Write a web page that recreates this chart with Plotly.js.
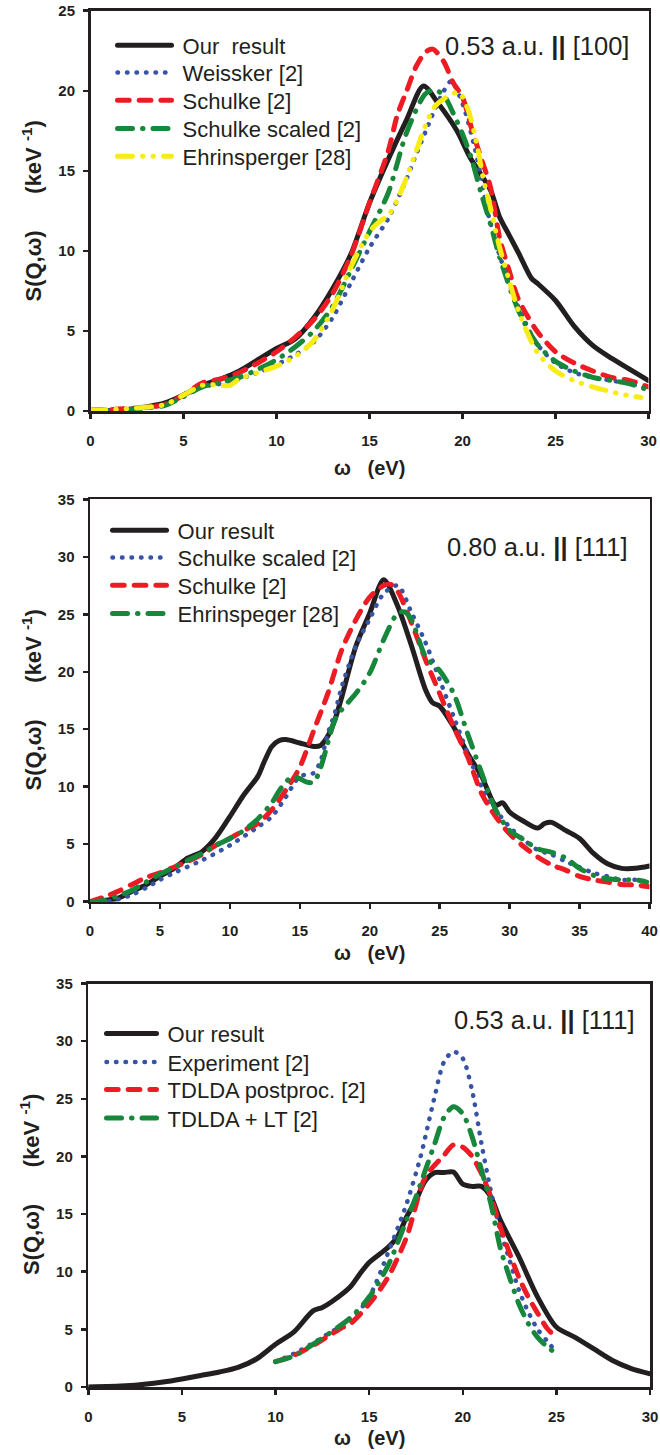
<!DOCTYPE html>
<html><head><meta charset="utf-8">
<script src="https://cdn.plot.ly/plotly-3.0.1.min.js"></script>
<style>
html,body{margin:0;padding:0;background:#fff;}
#chart{width:660px;height:1455px;}
path.js-line{stroke-linecap:round !important;stroke-linejoin:round !important;}
</style></head><body><div id="chart"></div>
<script>
// ---------------- Panel 1 : 0.53 a.u. || [100] ----------------
var p1_names = ["Our\u00A0 result", "Weissker [2]", "Schulke [2]", "Schulke scaled [2]", "Ehrinsperger [28]"];
var p1_our_x = [0,1,2,3,4,5,6,7,8,9,10,11,12,13,14,15,16,17,17.9,18.7,19.7,20.4,21.5,22,22.5,23,23.7,24,25,26,27,28,29,30];
var p1_our_y = [0,0.03,0.1,0.25,0.5,1.0,1.6,2.0,2.5,3.2,3.9,4.5,5.8,7.6,9.8,13.0,15.7,18.2,20.3,19.2,17.5,15.85,13.8,12.1,11.0,9.9,8.3,8.0,6.9,5.3,4.1,3.3,2.6,1.9];
var p1_weis_x = [0,2,4,5,6,7,8,9,10,11,12,13,14,15,16,16.5,17,17.5,18,18.5,19,19.4,20,20.6,21,21.3,22,23,24,25,26,27,28,29,30];
var p1_weis_y = [0.05,0.1,0.4,0.9,1.5,1.7,2.0,2.4,2.9,3.5,4.3,5.8,8.0,10.2,12.0,13.2,14.5,16.0,17.4,18.8,20.0,20.6,19.2,16.7,14.6,12.7,9.7,6.5,4.2,3.0,2.4,2.1,1.9,1.7,1.4];
var p1_sch_x = [0,2,4,5,6,7,8,9,10,11,12,13,14,15,16,16.5,17,17.5,18,18.4,19,19.5,20,20.5,21,21.5,22,22.5,23,24,25,26,27,28,29,30];
var p1_sch_y = [0.05,0.15,0.4,1.0,1.75,2.0,2.4,3.0,3.7,4.6,5.7,7.3,9.7,13.0,16.2,18.5,20.0,21.5,22.4,22.6,21.8,20.5,19.6,17.6,15.8,14.0,10.8,8.8,7.0,5.0,3.7,3.0,2.5,2.1,1.9,1.5];
var p1_schs_x = [0,2,4,5,6,7,8,9,10,11,12,13,14,15,16,17,18,18.5,19,19.5,20,20.5,21,21.5,22,23,24,25,26,27,28,29,30];
var p1_schs_y = [0.05,0.1,0.35,0.9,1.5,1.8,2.1,2.6,3.2,4.0,5.0,6.5,8.8,11.2,13.6,17.4,19.8,20.05,19.7,18.6,17.3,15.7,13.6,11.7,9.6,6.3,4.2,3.1,2.5,2.1,1.9,1.7,1.3];
var p1_ehr_x = [0,2,4,5,6,6.5,7,7.5,8,9,10,11,12,13,14,15,15.5,16,16.5,17,17.5,18,18.5,19,19.8,20.3,20.8,21.1,21.5,22,22.5,23,24,25,26,27,28,29,29.6];
var p1_ehr_y = [0.05,0.15,0.4,1.0,1.6,1.65,1.6,1.6,2.0,2.4,2.8,3.4,4.4,6.3,9.0,11.2,11.8,12.2,13.2,14.6,16.2,17.8,19.0,19.5,19.9,18.8,16.5,14.6,12.7,10.2,8.2,6.3,3.7,2.5,1.9,1.5,1.2,0.95,0.85];

// ---------------- Panel 2 : 0.80 a.u. || [111] ----------------
var p2_names = ["Our result", "Schulke scaled [2]", "Schulke [2]", "Ehrinspeger [28]"];
var p2_our_x = [0,1,2,3,4,5,6,7,8,9,10,11,12,12.5,13,13.5,14,15,16,16.5,17,17.5,18,19,20,21,22,23,24,24.5,25,26,27,28,29,29.5,30,31,32,32.5,33,34,35,36,37,38,39,40];
var p2_our_y = [0,0.1,0.3,0.9,1.45,2.2,2.9,3.8,4.35,5.6,7.4,9.3,10.9,12.3,13.5,14.0,14.1,13.8,13.5,13.6,14.4,15.8,17.8,22.2,25.1,28.0,25.7,22.2,18.4,17.3,17.0,15.2,12.9,10.9,8.4,8.6,7.8,7.0,6.4,6.8,6.9,6.2,5.5,4.2,3.3,2.9,2.9,3.1];
var p2_schs_x = [0,1,1.5,2,3,4,5,6,8,10,12,13,14,15,16,16.5,17,17.5,18,19,20,21,22,23,24,25,26,27,28,29,30,31,32,33,34,35,36,37,38,39,40];
var p2_schs_y = [0,0,0.05,0.2,0.6,1.2,1.9,2.5,3.6,4.9,6.5,7.4,9.1,10.9,11.2,12.3,14.6,16.4,18.7,22.2,24.6,26.8,27.5,25.1,22.5,19.3,16.1,12.9,10.0,8.0,6.5,5.4,4.5,4.1,3.5,3.0,2.5,2.2,1.9,1.9,1.7];
var p2_sch_x = [0,1,2,3,4,5,6,7,8,9,10,11,12,13,14,15,16,17,18,19,20,21,21.5,22,23,24,25,26,27,28,29,30,31,32,33,34,35,36,37,38,39,40];
var p2_sch_y = [0,0.4,0.9,1.5,2.1,2.5,3.0,3.5,4.1,4.9,5.5,6.2,6.8,8.0,9.7,11.7,14.9,18.1,21.9,24.5,26.5,27.5,27.6,27.0,24.2,21.0,18.1,15.2,12.6,9.4,7.4,5.9,4.8,3.9,3.2,2.75,2.2,1.9,1.7,1.5,1.45,1.3];
var p2_ehr_x = [0,1,2,3,4,5,6,7,8,9,10,11,12,13,13.5,14,14.5,15,15.5,16,16.5,17,17.5,18,19,20,21,22,22.5,23,24,25,26,27,28,29,30,31,32,33,34,35,36,37,38,39,39.8];
var p2_ehr_y = [0,0.1,0.5,1.0,1.7,2.4,3.0,3.6,4.2,4.9,5.5,6.2,7.2,8.6,9.6,10.4,10.9,10.7,10.4,10.4,11.7,13.8,15.8,16.7,18.1,19.9,22.8,25.1,25.2,24.5,21.3,20.1,18.1,14.6,11.2,8.0,6.2,5.4,4.6,4.3,3.8,2.9,2.3,2.0,1.9,1.9,1.7];

// ---------------- Panel 3 : 0.53 a.u. || [111] ----------------
var p3_names = ["Our result", "Experiment [2]", "TDLDA postproc. [2]", "TDLDA + LT [2]"];
var p3_our_x = [0,2,3,4,5,6,7,8,9,10,11,12,12.5,13,14,14.5,15,16,16.5,17,17.5,18,18.5,19,19.5,20,20.5,21,21.5,22,23,24,25,26,27,28,29,30];
var p3_our_y = [0,0.1,0.23,0.43,0.7,1.0,1.3,1.7,2.45,3.7,4.8,6.6,6.9,7.4,8.7,9.8,10.8,12.1,13.0,14.75,16.2,17.9,18.6,18.6,18.65,17.6,17.4,17.4,16.5,14.5,11.3,7.8,5.2,4.3,3.3,2.3,1.6,1.15];
var p3_exp_x = [10,11,12,13,14,15,16,17,17.75,18,18.5,19,19.5,20,20.5,21,21.5,22,22.5,23,23.5,24,24.5,25];
var p3_exp_y = [2.2,2.9,3.8,4.8,5.8,7.8,11.6,15.9,20.0,21.7,25.2,28.2,29.1,28.5,25.7,21.1,17.0,13.6,11.0,8.4,6.5,5.0,4.0,3.0];
var p3_tdp_x = [10,11,12,13,13.5,14,15,16,17,18,19,19.5,20,20.5,21,21.5,22,22.5,23,23.5,24,24.5,25];
var p3_tdp_y = [2.2,2.75,3.6,4.6,5.1,5.5,7.2,9.5,13.0,18.2,20.1,21.0,20.8,20.0,18.5,16.5,13.9,11.6,9.5,7.8,6.4,5.1,4.3];
var p3_tdl_x = [10,11,12,13,14,15,16,17,17.5,18,18.5,19,19.5,20,20.5,21,21.5,22,22.5,23,23.5,24,24.5,25];
var p3_tdl_y = [2.2,2.7,3.7,4.8,6.0,7.8,10.5,14.5,16.5,18.8,21.1,23.4,24.3,23.7,21.7,18.8,15.9,12.1,9.5,7.2,5.5,4.3,3.5,2.9];

// ---------------- Tick labels / annotations ----------------
var p1_xticks = [0,5,10,15,20,25,30];
var p2_xticks = [0,5,10,15,20,25,30,35,40];
var p3_xticks = [0,5,10,15,20,25,30];
var p1_yticks = [0,5,10,15,20,25];
var p23_yticks = [0,5,10,15,20,25,30,35];
var panel_labels = ["0.53 a.u. <b>||</b> [100]", "0.80 a.u. <b>||</b> [111]", "0.53 a.u. <b>||</b> [111]"];
var xTitle = "ω\u00A0\u00A0 (eV)";
var yTitle = "S(Q,ω)\u00A0\u00A0\u00A0\u00A0\u00A0 (keV <sup>-1</sup>)";

// ---------------- Styles ----------------
var C = {black:"#231f20", blue:"#3753a5", red:"#ed1c24", green:"#17873b", yellow:"#f7ec13"};
var S = {
  solid:  {color:C.black, width:5, dash:"solid"},
  dotted: function(c){return {color:c, width:4.5, dash:"0.5px,9px"};},
  dashed: function(c){return {color:c, width:5, dash:"11.7px,10px"};},
  dashdot: function(c){return {color:c, width:5, dash:"15px,10px,0.5px,10px"};},
  dashdotdot: function(c){return {color:c, width:5, dash:"15px,10px,0.5px,10px,0.5px,10px"};}
};
var legCount = 0;
function tr(x, y, name, line, ax){
  legCount++;
  var lg = legCount === 1 ? "legend" : "legend" + legCount;
  var l = Object.assign({shape:"spline", smoothing:0.8}, line);
  return {x:x, y:y, name:"\u00A0" + name, type:"scatter", mode:"lines", line:l,
          xaxis:"x"+ax, yaxis:"y"+ax, legend:lg, hoverinfo:"skip"};
}
var traces = [
  tr(p1_our_x, p1_our_y, p1_names[0], S.solid, ""),
  tr(p1_weis_x, p1_weis_y, p1_names[1], S.dotted(C.blue), ""),
  tr(p1_sch_x, p1_sch_y, p1_names[2], S.dashed(C.red), ""),
  tr(p1_schs_x, p1_schs_y, p1_names[3], S.dashdot(C.green), ""),
  tr(p1_ehr_x, p1_ehr_y, p1_names[4], S.dashdotdot(C.yellow), ""),

  tr(p2_our_x, p2_our_y, p2_names[0], S.solid, "2"),
  tr(p2_schs_x, p2_schs_y, p2_names[1], S.dotted(C.blue), "2"),
  tr(p2_sch_x, p2_sch_y, p2_names[2], S.dashed(C.red), "2"),
  tr(p2_ehr_x, p2_ehr_y, p2_names[3], S.dashdot(C.green), "2"),

  tr(p3_our_x, p3_our_y, p3_names[0], S.solid, "3"),
  tr(p3_exp_x, p3_exp_y, p3_names[1], S.dotted(C.blue), "3"),
  tr(p3_tdp_x, p3_tdp_y, p3_names[2], S.dashed(C.red), "3"),
  tr(p3_tdl_x, p3_tdl_y, p3_names[3], S.dashdot(C.green), "3")
];

var H = 1455, W = 660;
var tickFont = {family:"Liberation Sans, Arial, sans-serif", size:15, color:C.black, weight:"bold"};
function axBase(dom, rng, tv, anchor, standoff){
  return {domain:dom, range:rng, tickvals:tv, ticktext:tv.map(String), anchor:anchor,
    showline:true, linecolor:C.black, linewidth:2.5, mirror:true, ticks:"outside", ticklen:5,
    tickwidth:2.5, tickcolor:C.black, tickfont:tickFont, showgrid:false, zeroline:false,
    ticklabelstandoff:standoff, fixedrange:true};
}
function yright(over, rng, tv, anchor){
  return {overlaying:over, side:"right", anchor:anchor, range:rng, tickvals:tv, showticklabels:false,
    ticks:"inside", ticklen:5, tickwidth:2.5, tickcolor:C.black, showline:false, showgrid:false,
    zeroline:false, fixedrange:true};
}
var d1x=[90.5/W, 648.5/W], d2x=[90/W, 649.5/W], d3x=[88.3/W, 650/W];
var d1y=[1-411/H, 1-10.7/H], d2y=[1-901.7/H, 1-499.3/H], d3y=[1-1387/H, 1-983.5/H];

// legend rows (pixel centre of each entry) and left edges per panel
var legRows = [45,72.3,100,128.3,156, 530,557.3,585,613.3, 1033.3,1061.7,1089.3,1117.7];
var legLeft = [112.5,112.5,112.5,112.5,112.5, 107.5,107.5,107.5,107.5, 101.5,101.5,101.5,101.5];
var legItemW = [54,54,54,54,54, 54,54,54,54, 50,50,50,50];
var legFont = {family:"Liberation Sans, Arial, sans-serif", size:22, color:C.black};

var annFont = {family:"Liberation Sans, Arial, sans-serif", size:25.5, color:C.black};
var titleFont = {family:"Liberation Sans, Arial, sans-serif", size:22, color:C.black, weight:"bold"};
var xTitleFont = {family:"Liberation Sans, Arial, sans-serif", size:20, color:C.black, weight:"bold"};
function ann(text, x, y, xa, font, angle){
  return {text:text, x:x/W, y:1-y/H, xref:"paper", yref:"paper", xanchor:xa, yanchor:"middle",
    showarrow:false, font:font, textangle:angle||0};
}
var layout = {
  width:W, height:H, margin:{l:0,r:0,t:0,b:0}, paper_bgcolor:"#fff", plot_bgcolor:"rgba(0,0,0,0)",
  showlegend:true,
  xaxis: axBase(d1x,[0,30],p1_xticks,"y",9),
  yaxis: axBase(d1y,[0,25],p1_yticks,"x",5),
  xaxis2: axBase(d2x,[0,40],p2_xticks,"y2",9),
  yaxis2: axBase(d2y,[0,35],p23_yticks,"x2",5),
  xaxis3: axBase(d3x,[0,30],p3_xticks,"y3",9),
  yaxis3: axBase(d3y,[0,35],p23_yticks,"x3",5),
  yaxis4: yright("y",[0,25],p1_yticks,"x"),
  yaxis5: yright("y2",[0,35],p23_yticks,"x2"),
  yaxis6: yright("y3",[0,35],p23_yticks,"x3"),
  annotations:[
    ann(panel_labels[0], 631, 46, "right", annFont),
    ann(panel_labels[1], 630, 547, "right", annFont),
    ann(panel_labels[2], 637, 1020, "right", annFont),
    ann(xTitle, 369, 468, "center", xTitleFont),
    ann(xTitle, 370, 953, "center", xTitleFont),
    ann(xTitle, 369, 1438, "center", xTitleFont),
    ann(yTitle, 31.5, 211, "center", titleFont, -90),
    ann(yTitle, 31.5, 700, "center", titleFont, -90),
    ann(yTitle, 30, 1185, "center", titleFont, -90)
  ]
};
for (var i = 0; i < legRows.length; i++) {
  var key = i === 0 ? "legend" : "legend" + (i + 1);
  layout[key] = {x:legLeft[i]/W, y:1-(legRows[i]-20.5)/H, xanchor:"left", yanchor:"top",
    bgcolor:"rgba(0,0,0,0)", borderwidth:0, font:legFont, itemwidth:legItemW[i], tracegroupgap:0};
}
Plotly.newPlot("chart", traces, layout, {displayModeBar:false, staticPlot:true});
</script></body></html>
